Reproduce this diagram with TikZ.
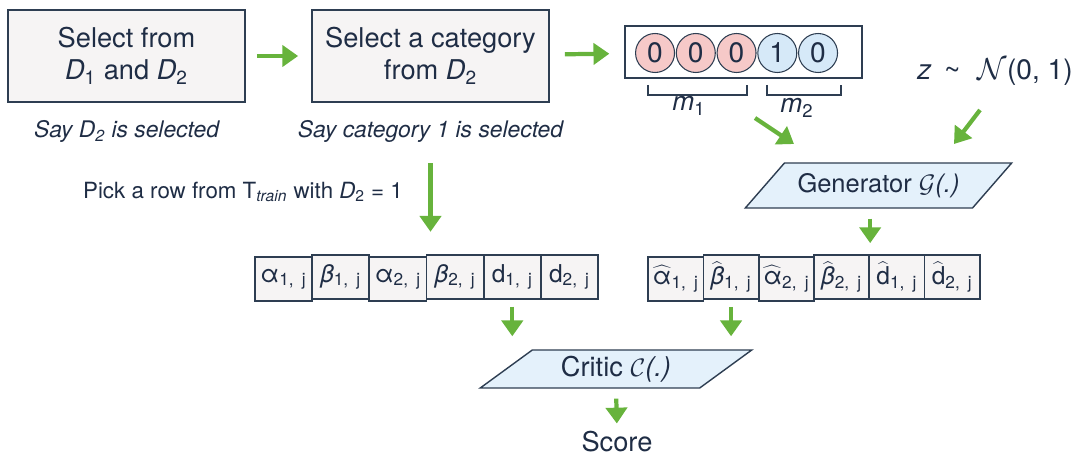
\documentclass[tikz,border=0pt]{standalone}
\usepackage{fontspec}
\setmainfont{TeX Gyre Heros}
\usetikzlibrary{positioning,shapes.geometric,matrix,arrows.meta}

\definecolor{ink}{HTML}{1F2D45}
\definecolor{edge}{HTML}{2E3E52}
\definecolor{boxfill}{HTML}{F6F4F4}
\definecolor{netfill}{HTML}{E4F1FB}
\definecolor{arrgreen}{HTML}{67B33C}
\definecolor{pinkfill}{HTML}{F6C9C8}
\definecolor{bluefill}{HTML}{D6E9F8}

\begin{document}
\begin{tikzpicture}[x=0.02cm, y=-0.02cm,
    every node/.style={text=ink},
    stepbox/.style={draw=edge, fill=boxfill, line width=1pt, minimum width=4.74cm, minimum height=1.84cm, align=center, font=\fontsize{15.5}{18}\selectfont},
    note/.style={font=\fontsize{13}{15}\selectfont\itshape},
    bit/.style={circle, draw=edge, line width=0.6pt, minimum size=0.78cm, inner sep=0pt, font=\fontsize{16}{18}\selectfont},
    net/.style={trapezium, trapezium left angle=45, trapezium right angle=135, trapezium stretches=true,
        draw=edge, fill=netfill, line width=0.8pt},
    % one row of framed cells, #1 = cell width
    vec/.style={matrix of nodes, column sep=-1pt,
        nodes={draw=edge, fill=boxfill, line width=1pt, text width=#1, align=center, minimum height=0.88cm,
            inner sep=0pt, font=\fontsize{14}{16}\selectfont}},
    flow/.style={-{Triangle[length=9pt,width=12pt]}, line width=2.4pt, draw=arrgreen},
    brack/.style={draw=edge, line width=0.8pt}
]
    \useasboundingbox (0,0) rectangle (1073,456);

    % top row
    \node[stepbox] (select) at (126.5,56) {Select from\\\textit{D}\textsubscript{1} and \textit{D}\textsubscript{2}};
    \node[stepbox] (category) at (430.5,56) {Select a category\\from \textit{D}\textsubscript{2}};
    \node[note, below=0.22cm of select] (selnote) {Say \textit{D}\textsubscript{2} is selected};
    \node[note, below=0.22cm of category] (catnote) {Say category 1 is selected};

    \node[draw=edge, fill=white, line width=0.8pt, minimum width=4.74cm, minimum height=1.04cm] (onehot) at (743.5,52) {};
    \foreach \v/\c [count=\i] in {0/pinkfill,0/pinkfill,0/pinkfill,1/bluefill,0/bluefill}
        \node[bit, fill=\c] (b\i) at ({614.3+40.75*\i},53) {\v};
    \draw[brack] (648,85) |- (747,95) -- (747,85);
    \draw[brack] (767,85) |- (841,95) -- (841,85);
    \node[font=\fontsize{15}{17}\selectfont] (mone) at (689,106) {\textit{m}\textsubscript{1}};
    \node[font=\fontsize{15}{17}\selectfont] (mtwo) at (797,108) {\textit{m}\textsubscript{2}};

    \node[font=\fontsize{16}{18}\selectfont] (noise) at (995,72) {\textit{z} \,\textasciitilde\,\, $\mathcal{N}$(0, 1)};

    \draw[flow, shorten <=0.22cm, shorten >=0.26cm] (select) -- (category);
    \draw[flow, shorten <=0.3cm, shorten >=0.3cm] (category) -- (onehot);

    % generator branch
    \node[net, minimum width=5.34cm, minimum height=0.9cm, font=\fontsize{14.5}{17}\selectfont] (gen) at (878.5,185.5) {Generator $\mathcal{G}$\textit{(.)}};
    \coordinate (mtail) at (755,118);
    \coordinate (mhead) at (794,144);
    \coordinate (ztail) at (980,110);
    \coordinate (zhead) at (954,144);
    \draw[flow] (mtail) -- (mhead);
    \draw[flow] (ztail) -- (zhead);

    \matrix (fake) [vec=1.106cm] at (814,278) {
        $\widehat{\mbox{α}}$\textsubscript{1, j} & $\widehat{\mbox{\textit{β}}}$\textsubscript{1, j} &
        $\widehat{\mbox{α}}$\textsubscript{2, j} & $\widehat{\mbox{\textit{β}}}$\textsubscript{2, j} &
        $\widehat{\mbox{d}}$\textsubscript{1, j} & $\widehat{\mbox{d}}$\textsubscript{2, j} \\
    };
    \draw[flow, shorten <=0.2cm, shorten >=0.22cm] (gen.south -| fake-1-4.east) -- (fake-1-4.north east);

    % real branch
    \node[font=\fontsize{12.7}{15}\selectfont] (pick) at (243,192) {Pick a row from T\textsubscript{\textit{train}} with \textit{D}\textsubscript{2} = 1};
    \matrix (real) [vec=1.144cm] at (426.5,278) {
        α\textsubscript{1, j} & \textit{β}\textsubscript{1, j} &
        α\textsubscript{2, j} & \textit{β}\textsubscript{2, j} &
        d\textsubscript{1, j} & d\textsubscript{2, j} \\
    };
    \draw[flow, shorten <=0.3cm, shorten >=0.32cm] (catnote.south) -- (catnote.south |- real.north);

    % critic
    \node[net, minimum width=5.44cm, minimum height=0.76cm, font=\fontsize{15.5}{18}\selectfont] (critic) at (616,369) {Critic $\mathcal{C}$\textit{(.)}};
    \node[font=\fontsize{15.5}{18}\selectfont, inner sep=1pt] (score) at (617,442) {Score};
    \draw[flow, shorten <=0.14cm, shorten >=0.26cm] (real-1-5.south) -- (real-1-5.south |- critic.north);
    \draw[flow, shorten <=0.14cm, shorten >=0.26cm] (fake-1-2.south) -- (fake-1-2.south |- critic.north);
    \draw[flow, shorten <=0.2cm, shorten >=0.12cm] (critic.south) -- (score.north);
\end{tikzpicture}
\end{document}
